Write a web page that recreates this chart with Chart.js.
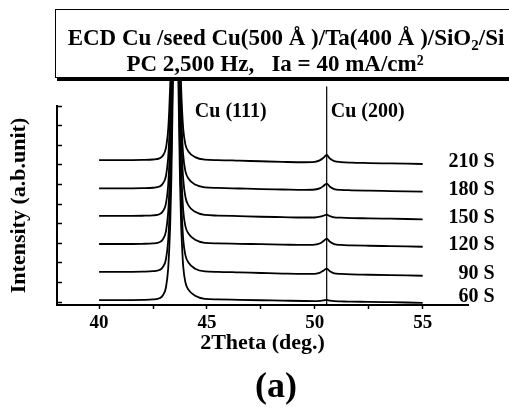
<!DOCTYPE html>
<html>
<head>
<meta charset="utf-8">
<script src="https://cdn.jsdelivr.net/npm/chart.js@4.4.0/dist/chart.umd.min.js"></script>
<style>
  html, body { margin: 0; padding: 0; background: #fff; overflow: hidden; }
  #wrap { position: relative; width: 509px; height: 408px; }
  #chart { position: absolute; left: 0; top: 0; }
  .txt { position: absolute; font-family: "Liberation Serif", serif; font-weight: bold; color: #000; white-space: nowrap; }
  #box { left: 55px; top: 9px; width: 462px; height: 69px; box-sizing: border-box; border: 1.5px solid #000;
         box-shadow: 2px 3px 0 #000; background: #fff; font-size: 23px; line-height: 23px; text-align: center; padding-top: 15.5px; z-index: 2; }
  #box .l2 { display: block; padding-right: 22px; }
  #box .sub { font-size: 15px; position: relative; top: 5px; }
  #fig { left: 226px; top: 367px; width: 100px; text-align: center; font-size: 36px; line-height: 36px; }
</style>
</head>
<body>
<div id="wrap">
  <canvas id="chart" width="509" height="408"></canvas>
  <div id="box" class="txt">ECD Cu /seed Cu(500 Å )/Ta(400 Å )/SiO<span class="sub">2</span>/Si<span class="l2">PC 2,500 Hz,&nbsp;&nbsp; Ia = 40 mA/cm²</span></div>
  <div id="fig" class="txt">(a)</div>
</div>
<script>
// 2theta sample points (deg.)
const twoTheta = [40, 41, 42, 42.5, 42.8, 42.95,
                  43.1, 43.2, 43.25, 43.3, 43.35, 43.4, 43.45, 43.55, 43.65, 43.7, 43.75, 43.8, 43.85, 43.9, 44.0,
                  44.15, 44.45, 44.9, 45.5, 46.5, 47.5, 48.5, 49.5, 50.0, 50.25, 50.4,
                  50.55, 50.7, 50.9, 51.2, 51.7, 52.5, 53.5, 55]

const sampleNames = ['60 S', '90 S', '120 S', '150 S', '180 S', '210 S']
// vertical shift of each scan (a.u.)
const offsets = [-0.04, 1.34, 2.82, 4.22, 5.63, 7.04]

const peakNames = ['Cu (111)', 'Cu (200)']
const peakPositions = [43.55, 50.55]

// intensity above each scan's own baseline
const i60  = [.14,.14,.15,.17,.23,.37, .78,1.7,2.7,4.1,6.3,9.6,14.5,44,14.5,9.6,6.3,4.1,2.8,1.85,1.05, .66,.36,.2,.17,.15,.13,.11,.09,.085,.10,.12, .15,.11,.08,.07,.055,.05,.03,0]
const i90  = [.20,.20,.21,.23,.29,.43, .84,1.75,2.75,4.2,6.3,9.6,14.5,44,14.5,9.6,6.3,4.1,2.8,1.85,1.05, .66,.36,.22,.20,.17,.14,.11,.09,.10,.16,.26, .36,.23,.12,.09,.066,.05,.03,0]
const i120 = [.14,.14,.15,.17,.23,.37, .78,1.7,2.7,4.1,6.2,9.4,14,42,14,9.4,6.2,4.1,2.8,1.85,1.05, .66,.36,.2,.17,.15,.13,.11,.09,.11,.18,.29, .41,.25,.13,.09,.07,.05,.03,0]
const i150 = [.17,.17,.18,.20,.26,.40, .80,1.7,2.7,4.1,6.2,9.4,14,42,14,9.4,6.3,4.3,3.0,2.05,1.15, .70,.38,.22,.19,.16,.13,.11,.09,.09,.13,.18, .24,.16,.10,.08,.06,.05,.03,0]
const i180 = [.17,.17,.18,.20,.26,.40, .80,1.7,2.7,4.1,6.2,9.4,14,42,14,9.4,6.2,4.1,2.8,1.85,1.05, .66,.36,.22,.19,.16,.13,.11,.09,.11,.18,.29, .41,.25,.13,.09,.07,.05,.03,0]
const i210 = [.20,.20,.21,.23,.29,.42, .82,1.73,2.7,4.1,6.1,9.2,13.5,40,13.5,9.2,6.1,4.0,2.7,1.8,1.0, .63,.35,.22,.20,.17,.14,.11,.09,.11,.20,.32, .46,.28,.15,.10,.07,.05,.03,0]

const scans = [i60, i90, i120, i150, i180, i210]
const clipBox = {left: 2, top: 30, right: 2, bottom: 2}

var datasets = scans.map((vals, i) => ({
  label: sampleNames[i],
  data: twoTheta.map((t, k) => ({x: t, y: vals[k] + offsets[i]})),
  borderColor: '#000',
  borderWidth: 1.8,
  pointRadius: 0,
  cubicInterpolationMode: 'monotone',
  clip: clipBox
}))
// marker line through the Cu (200) position
datasets.push({
  label: 'Cu (200) marker',
  data: [{x: peakPositions[1], y: -0.15}, {x: peakPositions[1], y: 11}],
  borderColor: '#000',
  borderWidth: 1.2,
  pointRadius: 0,
  clip: clipBox
})

const textLabels = {
  id: 'textLabels',
  afterDatasetsDraw(chart) {
    const {ctx, scales: {x, y}} = chart
    ctx.save()
    ctx.fillStyle = '#000'
    ctx.font = 'bold 20px "Liberation Serif"'
    ctx.textBaseline = 'middle'
    ctx.textAlign = 'right'
    sampleNames.forEach((name, i) => {
      const lvl = Math.max(offsets[i] + 0.1, 0.27)
      ctx.fillText(name, x.getPixelForValue(58.33), y.getPixelForValue(lvl))
    })
    ctx.textAlign = 'left'
    const dx = [0.89, 0.19]
    peakNames.forEach((name, i) => {
      ctx.fillText(name, x.getPixelForValue(peakPositions[i] + dx[i]), y.getPixelForValue(9.7))
    })
    ctx.restore()
  }
}

Chart.defaults.font.family = '"Liberation Serif", serif'
Chart.defaults.font.weight = 'bold'
Chart.defaults.color = '#000'

var chart = new Chart(document.getElementById('chart'), {
  type: 'line',
  data: {datasets: datasets},
  options: {
    responsive: false,
    animation: false,
    layout: {padding: {left: 0, top: 106, right: 41, bottom: 51}},
    plugins: {legend: {display: false}, tooltip: {enabled: false}},
    scales: {
      x: {
        type: 'linear',
        min: 38.05,
        max: 57.1,
        border: {display: true, color: '#000', width: 2},
        grid: {drawOnChartArea: false, drawTicks: true, tickLength: 4, tickColor: '#000', tickWidth: 1.5},
        ticks: {
          stepSize: 2.5,
          includeBounds: false,
          maxRotation: 0,
          autoSkip: false,
          padding: 3,
          font: {size: 19, weight: 'bold'},
          callback: v => (v % 5 === 0 ? v : '')
        },
        title: {display: true, text: '2Theta (deg.)', font: {size: 22, weight: 'bold'}, padding: {top: 0, bottom: 0}},
        afterFit: s => { s.height = 52 }
      },
      y: {
        type: 'linear',
        min: -0.153,
        max: 10,
        border: {display: true, color: '#000', width: 2},
        grid: {drawOnChartArea: false, drawTicks: true, tickLength: -5, tickColor: '#000', tickWidth: 1.5},
        ticks: {stepSize: 1, includeBounds: false, display: false},
        title: {display: true, text: 'Intensity (a.b.unit)', font: {size: 22, weight: 'bold'}, padding: {top: 6, bottom: 0}},
        afterFit: s => { s.width = 57 }
      }
    }
  },
  plugins: [textLabels]
})
</script>
</body>
</html>
